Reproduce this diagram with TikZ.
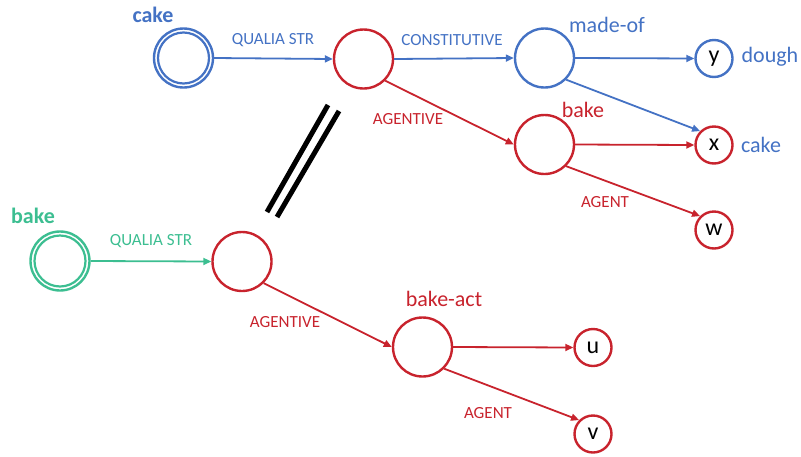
\documentclass[tikz,border=0pt]{standalone}
\usepackage{fontspec}
\setmainfont{Carlito}
\usetikzlibrary{arrows.meta}
\definecolor{cblue}{RGB}{68,114,196}
\definecolor{cred}{RGB}{200,35,45}
\definecolor{cgreen}{RGB}{60,190,145}
\tikzset{
  big/.style={circle, draw, line width=2.4pt, minimum size=59pt, inner sep=0pt},
  small/.style={circle, draw, line width=2.4pt, minimum size=37pt, inner sep=0pt, font=\fontsize{24}{24}\selectfont, text=black},
  edge/.style={line width=1.8pt, -{Triangle[length=8pt,width=7pt]}},
  rel/.style={font=\fontsize{17}{17}\selectfont},
  word/.style={font=\fontsize{22}{22}\selectfont},
  head/.style={font=\fontsize{22}{22}\selectfont\bfseries},
}
\begin{document}
\begin{tikzpicture}[x=1pt,y=-1pt]
\path[use as bounding box] (0,0) rectangle (801,456);
% nodes
\node[big, draw=cblue] (cake) at (183.5,58) {};
\draw[cblue, line width=2.2pt] (cake.center) circle (25.5pt);
\node[big, draw=cred] (q1) at (363.5,59) {};
\node[big, draw=cblue] (madeof) at (544.5,58) {};
\node[small, draw=cblue] (y) at (714,58.5) {y};
\node[big, draw=cred] (bake) at (544.5,144.5) {};
\node[small, draw=cred] (x) at (714,145) {x};
\node[small, draw=cred] (w) at (714,230) {w};
\node[big, draw=cgreen] (gbake) at (60,261) {};
\draw[cgreen, line width=2.2pt] (gbake.center) circle (25.5pt);
\node[big, draw=cred] (q2) at (242,261.5) {};
\node[big, draw=cred] (bakeact) at (422.5,347) {};
\node[small, draw=cred] (u) at (593,347.5) {u};
\node[small, draw=cred] (v) at (593,434) {v};
% labels
\node[head, text=cblue] (lcake) at (153,15) {cake};
\node[rel, text=cblue] (lq1) at (273,40) {QUALIA STR};
\node[rel, text=cblue] (lcon) at (452,40) {CONSTITUTIVE};
\node[word, text=cblue] (lmadeof) at (607,25) {made-of};
\node[word, text=cblue] (ldough) at (770,57) {dough};
\node[rel, text=cred] (lag1) at (408,119) {AGENTIVE};
\node[word, text=cred] (lbake) at (583,110) {bake};
\node[word, text=cblue] (lxcake) at (761,145) {cake};
\node[rel, text=cred] (lagent1) at (605,202) {AGENT};
\node[head, text=cgreen] (lgbake) at (33,216) {bake};
\node[rel, text=cgreen] (lq2) at (151,241) {QUALIA STR};
\node[rel, text=cred] (lag2) at (285,322) {AGENTIVE};
\node[word, text=cred] (lbakeact) at (444,299) {bake-act};
\node[rel, text=cred] (lagent2) at (488,413) {AGENT};
% edges
\draw[edge, cblue] (cake.east) -- (q1.west);
\draw[edge, cblue] (q1.east) -- (madeof.west);
\draw[edge, cred] (q1.-45) -- (bake.west);
\draw[edge, cblue] (madeof.east) -- (y.west);
\draw[edge, cblue] (madeof.-45) -- (x.135);
\draw[edge, cred] (bake.east) -- (x.west);
\draw[edge, cred] (bake.-45) -- (w.135);
\draw[edge, cgreen] (gbake.east) -- (q2.west);
\draw[edge, cred] (q2.-45) -- (bakeact.west);
\draw[edge, cred] (bakeact.east) -- (u.west);
\draw[edge, cred] (bakeact.-45) -- (v.135);
% identity mark
\coordinate (s1a) at (328,105);
\coordinate (s1b) at (267,212);
\coordinate (s2a) at (339,111);
\coordinate (s2b) at (277,217);
\draw[line width=5pt] (s1a) -- (s1b);
\draw[line width=5pt] (s2a) -- (s2b);
\end{tikzpicture}
\end{document}
